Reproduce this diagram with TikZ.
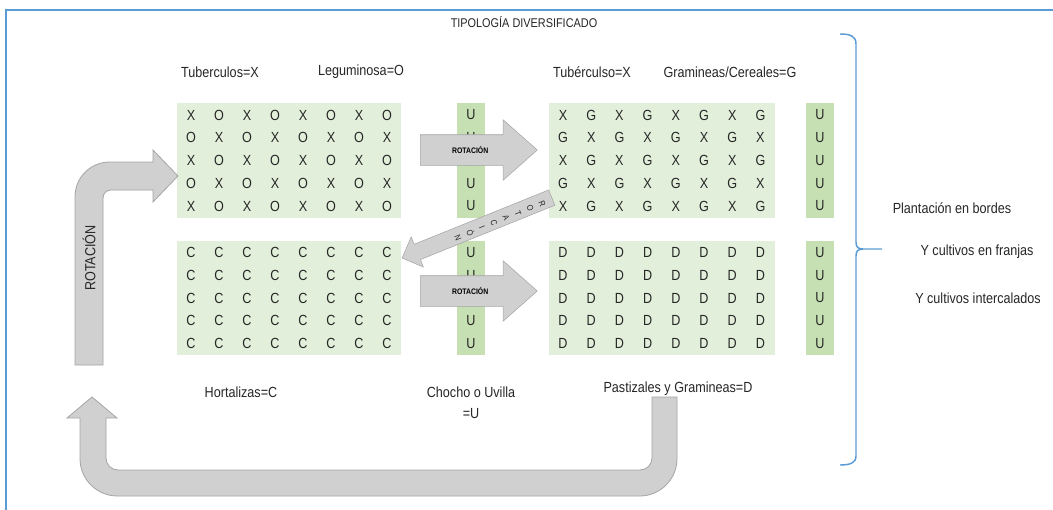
\documentclass[tikz,border=0pt]{standalone}
\usepackage{fontspec}
\setmainfont{Liberation Sans}[FakeStretch=0.86]
\usetikzlibrary{positioning, shapes.arrows, fit, backgrounds}

\definecolor{fieldgreen}{RGB}{226,239,218}
\definecolor{stripgreen}{RGB}{198,224,180}
\definecolor{frameblue}{RGB}{91,155,213}
\definecolor{arrowgray}{RGB}{208,208,208}
\definecolor{arrowedge}{RGB}{165,165,165}

\begin{document}
\begin{tikzpicture}[x=0.75pt, y=-0.75pt]
    % Styles
    \tikzset{
        crop/.style={inner sep=0pt, minimum width=21pt, minimum height=17pt, font=\fontsize{11}{12}\selectfont, text=black!85},
        field_bg/.style={fill=fieldgreen, inner sep=0pt},
        strip_bg/.style={fill=stripgreen, inner sep=0pt},
        label_text/.style={font=\fontsize{11}{12.5}\selectfont, text=black!85, align=center},
        rot_arrow/.style={single arrow, draw=arrowedge, fill=arrowgray, single arrow head extend=11.25pt, single arrow tip angle=83, minimum width=45pt, minimum height=87.75pt, text height=4.5pt, text depth=0pt, inner xsep=2pt, inner ysep=9pt, font=\fontsize{6}{7}\bfseries\selectfont},
        bent_arrow/.style={draw=arrowedge, fill=arrowgray, line width=0.6pt},
        brace_line/.style={draw=frameblue, line width=1.1pt}
    }

    \useasboundingbox (0,0) rectangle (1053,510);

    % Frame and title
    \draw[frameblue, line width=1.5pt] (1053,10) -- (6,10) -- (6,510);
    \node[label_text, font=\fontsize{9.5}{12}\selectfont] (title) at (524,22) {TIPOLOGÍA DIVERSIFICADO};

    % --- Fields (letters) ---
    \foreach \row in {1,...,5} {
        \foreach \col in {1,...,8} {
            \node[crop] (xo-\row-\col) at ({191+28*(\col-1)}, {115+22.75*(\row-1)}) {\ifodd\numexpr\row+\col\relax O\else X\fi};
            \node[crop] (xg-\row-\col) at ({563+28.2*(\col-1)}, {115+22.75*(\row-1)}) {\ifodd\numexpr\row+\col\relax G\else X\fi};
            \node[crop] (cc-\row-\col) at ({191+28*(\col-1)}, {252.5+22.75*(\row-1)}) {C};
            \node[crop] (dd-\row-\col) at ({563+28.2*(\col-1)}, {252.5+22.75*(\row-1)}) {D};
        }
        % Chocho / Uvilla strips
        \node[crop] (u_lt-\row) at (471, {115+22.75*(\row-1)}) {U};
        \node[crop] (u_lb-\row) at (471, {252.5+22.75*(\row-1)}) {U};
        \node[crop] (u_rt-\row) at (820, {115+22.75*(\row-1)}) {U};
        \node[crop] (u_rb-\row) at (820, {252.5+22.75*(\row-1)}) {U};
    }

    % --- Labels ---
    \node[label_text] (lbl_tub) at (220,72) {Tuberculos=X};
    \node[label_text] (lbl_leg) at (361,72) {Leguminosa=O};
    \node[label_text] (lbl_tub2) at (592,72) {Tubérculso=X};
    \node[label_text] (lbl_gram) at (730,72) {Gramineas/Cereales=G};
    \node[label_text] (lbl_hort) at (241,392) {Hortalizas=C};
    \node[label_text] (lbl_chocho) at (471,402.5) {Chocho o Uvilla\\[3.25pt]=U};

    \node[label_text] (lbl_bordes) at (952,208) {Plantación en bordes};
    \node[label_text] (lbl_franjas) at (977,252) {Y cultivos en franjas};
    \node[label_text] (lbl_interc) at (978,298) {Y cultivos intercalados};

    % --- Rotation arrows ---
    \node[rot_arrow, anchor=tail] (rot_top) at (420,150) {ROTACIÓN};
    \node[rot_arrow, anchor=tail] (rot_bottom) at (420,291) {ROTACIÓN};

    % diagonal one, letters stacked along it
    \node[rot_arrow, rotate=202, anchor=tail, minimum width=24pt, minimum height=121pt, single arrow head extend=6pt, single arrow tip angle=90, inner ysep=6pt, text height=0pt] (rot_diag) at (552,197.5) {};
    \node[font=\fontsize{6.5}{9.75}\selectfont, align=center, rotate=-68, text=black!85] (rot_diag_text) at (500,220.5) {R\\O\\T\\A\\C\\I\\Ó\\N};

    % bent arrow on the left
    \filldraw[bent_arrow] (75,365) [rounded corners=26pt] -- (75,162) [sharp corners] -- (153,162) -- (153,150) -- (178,176) -- (153,202) -- (153,190) [rounded corners=6pt] -- (103,190) [sharp corners] -- (103,365) -- cycle;
    \node[label_text, rotate=90] (rot_left_text) at (89,258) {ROTACIÓN};

    % U-turn arrow at the bottom
    \filldraw[bent_arrow] (652,397) -- (677,397) [rounded corners=28pt] -- (677,496) -- (80,496) [sharp corners] -- (80,418) -- (67,418) -- (92,397) -- (117,418) -- (106,418) [rounded corners=9pt] -- (106,470) -- (652,470) [sharp corners] -- cycle;
    \node[label_text] (lbl_past) at (678,389) {Pastizales y Gramineas=D};

    % Brace
    \coordinate (brace_tip) at (882,249);
    \draw[brace_line] (840,34) .. controls (850,34) and (856,36) .. (856,44) -- (856,242) .. controls (856,247) and (858,249) .. (863,249) -- (brace_tip);
    \draw[brace_line] (863,249) .. controls (858,249) and (856,251) .. (856,256) -- (856,456) .. controls (856,463) and (850,465) .. (840,465);

    % --- Backgrounds ---
    \begin{scope}[on background layer]
        \node[field_bg, fit=(xo-1-1) (xo-5-8)] (field_xo) {};
        \node[field_bg, fit=(xg-1-1) (xg-5-8)] (field_xg) {};
        \node[field_bg, fit=(cc-1-1) (cc-5-8)] (field_cc) {};
        \node[field_bg, fit=(dd-1-1) (dd-5-8)] (field_dd) {};
        \node[strip_bg, fit=(u_lt-1) (u_lt-5)] (strip_lt) {};
        \node[strip_bg, fit=(u_lb-1) (u_lb-5)] (strip_lb) {};
        \node[strip_bg, fit=(u_rt-1) (u_rt-5)] (strip_rt) {};
        \node[strip_bg, fit=(u_rb-1) (u_rb-5)] (strip_rb) {};
    \end{scope}

\end{tikzpicture}
\end{document}
